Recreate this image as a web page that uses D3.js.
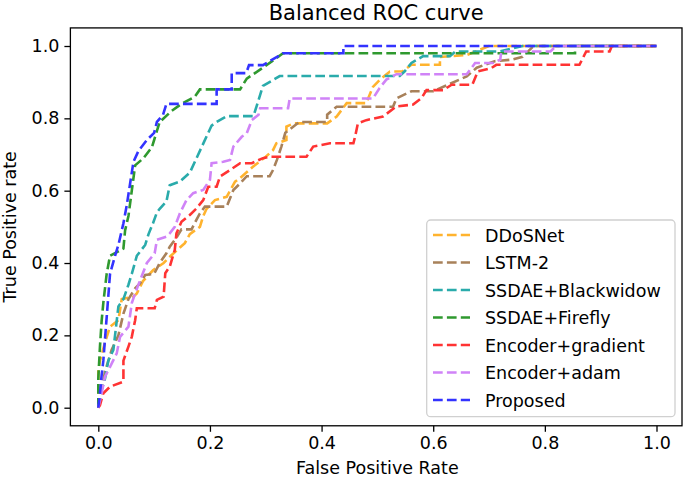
<!DOCTYPE html>
<html>
<head>
<meta charset="utf-8">
<script src="https://cdn.jsdelivr.net/npm/d3@7"></script>
<style>
  body { margin: 0; background: #fff; }
  text { font-family: "DejaVu Sans", sans-serif; fill: #000; }
</style>
</head>
<body>
<script>
// series, in drawing order (Proposed on top)
const seriesNames = ["DDoSNet", "LSTM-2", "SSDAE+Blackwidow", "SSDAE+Firefly",
  "Encoder+gradient", "Encoder+adam", "Proposed"];
const seriesColors = ["#ffb32e", "#a8815a", "#2aabab", "#2f992f", "#ff3333", "#d083f7", "#3333ff"];

// [false positive rate, true positive rate]
const ddosnet = [[0,0],[0,0.1],[0.003,0.13],[0.012,0.18],[0.018,0.21],[0.021,0.224],[0.036,0.242],
  [0.042,0.30],[0.063,0.307],[0.069,0.316],[0.08,0.35],[0.098,0.38],[0.117,0.40],[0.13,0.42],
  [0.155,0.455],[0.164,0.48],[0.182,0.50],[0.188,0.53],[0.194,0.55],[0.209,0.574],[0.23,0.583],
  [0.245,0.625],[0.254,0.635],[0.277,0.666],[0.30,0.694],[0.313,0.712],[0.319,0.731],[0.337,0.74],
  [0.337,0.777],[0.35,0.786],[0.41,0.786],[0.427,0.805],[0.445,0.842],[0.48,0.842],[0.492,0.887],
  [0.504,0.906],[0.522,0.929],[0.545,0.93],[0.561,0.948],[0.612,0.948],[0.612,0.97],[0.66,0.975],
  [0.7,1],[1,1]];
const lstm2 = [[0,0],[0.006,0.05],[0.012,0.1],[0.024,0.16],[0.036,0.2],[0.045,0.26],[0.054,0.3],
  [0.066,0.33],[0.075,0.344],[0.084,0.367],[0.1,0.37],[0.11,0.4],[0.122,0.427],[0.128,0.445],
  [0.14,0.47],[0.149,0.493],[0.167,0.493],[0.176,0.52],[0.182,0.537],[0.191,0.556],[0.23,0.556],
  [0.242,0.602],[0.254,0.62],[0.266,0.64],[0.307,0.64],[0.313,0.657],[0.32,0.685],[0.328,0.722],
  [0.335,0.76],[0.36,0.79],[0.41,0.79],[0.41,0.81],[0.427,0.832],[0.528,0.832],[0.534,0.855],
  [0.561,0.875],[0.6,0.875],[0.66,0.916],[0.678,0.94],[0.71,0.958],[0.74,0.962],[0.76,0.97],
  [0.78,1],[1,1]];
const ssdaeBlackwidow = [[0,0],[0.006,0.05],[0.012,0.08],[0.018,0.13],[0.027,0.16],[0.03,0.2],
  [0.033,0.24],[0.036,0.28],[0.045,0.30],[0.054,0.34],[0.06,0.37],[0.069,0.42],[0.084,0.45],
  [0.09,0.48],[0.098,0.51],[0.105,0.54],[0.11,0.55],[0.122,0.57],[0.128,0.615],[0.146,0.625],
  [0.164,0.65],[0.176,0.69],[0.188,0.73],[0.203,0.78],[0.212,0.79],[0.23,0.806],[0.278,0.806],
  [0.287,0.85],[0.295,0.89],[0.313,0.906],[0.325,0.917],[0.54,0.917],[0.549,0.93],[0.561,0.953],
  [0.582,0.972],[0.63,0.972],[0.64,0.985],[0.72,0.985],[0.76,1],[1,1]];
const ssdaeFirefly = [[0,0],[0,0.08],[0.003,0.17],[0.006,0.24],[0.009,0.29],[0.015,0.37],
  [0.021,0.42],[0.045,0.44],[0.048,0.49],[0.054,0.53],[0.06,0.60],[0.066,0.67],[0.081,0.69],
  [0.096,0.72],[0.11,0.79],[0.131,0.82],[0.149,0.84],[0.173,0.86],[0.182,0.88],[0.254,0.88],
  [0.266,0.91],[0.295,0.94],[0.331,0.98],[0.854,0.98],[0.854,1],[1,1]];
const encoderGradient = [[0,0],[0.003,0.007],[0.009,0.04],[0.021,0.058],[0.045,0.072],[0.045,0.13],
  [0.054,0.169],[0.06,0.196],[0.066,0.242],[0.069,0.275],[0.101,0.275],[0.105,0.298],[0.117,0.307],
  [0.12,0.372],[0.128,0.39],[0.137,0.436],[0.14,0.482],[0.149,0.514],[0.164,0.533],[0.176,0.551],
  [0.188,0.574],[0.197,0.611],[0.212,0.611],[0.218,0.639],[0.236,0.657],[0.254,0.676],[0.275,0.676],
  [0.295,0.69],[0.307,0.694],[0.373,0.694],[0.385,0.722],[0.415,0.731],[0.457,0.731],[0.46,0.749],
  [0.465,0.786],[0.48,0.795],[0.51,0.805],[0.534,0.833],[0.564,0.838],[0.579,0.856],[0.588,0.878],
  [0.618,0.878],[0.633,0.893],[0.67,0.893],[0.68,0.93],[0.704,0.939],[0.713,0.948],[0.862,0.948],
  [0.874,0.985],[0.916,0.985],[0.92,1],[1,1]];
const encoderAdam = [[0,0],[0.006,0.04],[0.012,0.086],[0.021,0.113],[0.033,0.15],[0.039,0.196],
  [0.054,0.224],[0.06,0.289],[0.066,0.316],[0.075,0.353],[0.087,0.40],[0.101,0.427],[0.105,0.464],
  [0.122,0.473],[0.128,0.482],[0.137,0.50],[0.146,0.537],[0.158,0.574],[0.17,0.593],[0.188,0.602],
  [0.20,0.63],[0.203,0.676],[0.224,0.68],[0.236,0.685],[0.242,0.722],[0.257,0.749],[0.266,0.759],
  [0.275,0.795],[0.287,0.81],[0.29,0.828],[0.34,0.828],[0.343,0.855],[0.492,0.855],[0.504,0.884],
  [0.516,0.907],[0.534,0.922],[0.66,0.922],[0.666,0.934],[0.675,0.953],[0.707,0.953],[0.72,0.962],
  [0.722,0.985],[0.81,0.985],[0.82,1],[1,1]];
const proposed = [[0,0],[0.003,0.04],[0.006,0.09],[0.009,0.13],[0.012,0.19],[0.015,0.25],
  [0.018,0.31],[0.021,0.37],[0.03,0.42],[0.036,0.45],[0.045,0.51],[0.051,0.56],[0.057,0.62],
  [0.063,0.68],[0.072,0.71],[0.087,0.74],[0.10,0.76],[0.105,0.79],[0.116,0.81],[0.122,0.84],
  [0.212,0.84],[0.212,0.88],[0.239,0.88],[0.239,0.925],[0.265,0.925],[0.27,0.947],[0.295,0.947],
  [0.331,0.98],[0.439,0.98],[0.439,1],[1,1]];

const seriesData = [ddosnet, lstm2, ssdaeBlackwidow, ssdaeFirefly, encoderGradient, encoderAdam, proposed];
const tickValues = [0, 0.2, 0.4, 0.6, 0.8, 1.0];

const W = 685, H = 480;
const fs = "17.5px";
const dash = "9.7,4.2";

const svg = d3.select("body").append("svg")
  .attr("width", W).attr("height", H)
  .attr("xmlns", "http://www.w3.org/2000/svg");

const x = d3.scaleLinear().domain([0, 1]).range([98.3, 656.5]);
const y = d3.scaleLinear().domain([0, 1]).range([407.7, 46]);

const plotLeft = x(-0.05), plotRight = 682, plotTop = y(1.05), plotBottom = y(-0.05);

// clip to axes area
svg.append("clipPath").attr("id", "clip")
  .append("rect").attr("x", plotLeft).attr("y", plotTop)
  .attr("width", plotRight - plotLeft).attr("height", plotBottom - plotTop);

const line = d3.line().x(d => x(d[0])).y(d => y(d[1]));

svg.append("g").attr("clip-path", "url(#clip)")
  .selectAll("path").data(seriesData).join("path")
  .attr("d", line)
  .attr("fill", "none")
  .attr("stroke", (d, i) => seriesColors[i])
  .attr("stroke-width", 2.6)
  .attr("stroke-dasharray", dash);

// axes
const xAxis = svg.append("g").attr("transform", `translate(0,${plotBottom})`)
  .call(d3.axisBottom(x).tickValues(tickValues).tickFormat(d3.format(".1f")).tickSize(6).tickPadding(5));
const yAxis = svg.append("g").attr("transform", `translate(${plotLeft},0)`)
  .call(d3.axisLeft(y).tickValues(tickValues).tickFormat(d3.format(".1f")).tickSize(6).tickPadding(5));
[xAxis, yAxis].forEach(g => {
  g.select(".domain").remove();
  g.selectAll("line").attr("stroke", "#000").attr("stroke-width", 1.3);
  g.selectAll("text").attr("font-size", fs).attr("font-family", "DejaVu Sans").attr("fill", "#000");
});

// frame
svg.append("rect")
  .attr("x", plotLeft).attr("y", plotTop)
  .attr("width", plotRight - plotLeft).attr("height", plotBottom - plotTop)
  .attr("fill", "none").attr("stroke", "#000").attr("stroke-width", 1.3);

// title and labels
svg.append("text").attr("x", (plotLeft + plotRight) / 2).attr("y", 20)
  .attr("text-anchor", "middle").attr("font-size", "21px").text("Balanced ROC curve");
svg.append("text").attr("x", (x(0) + x(1)) / 2).attr("y", 474)
  .attr("text-anchor", "middle").attr("font-size", fs).text("False Positive Rate");
svg.append("text").attr("transform", `translate(16,${(plotTop + plotBottom) / 2}) rotate(-90)`)
  .attr("text-anchor", "middle").attr("font-size", fs).text("True Positive rate");

// legend
const lg = svg.append("g");
lg.append("rect").attr("x", 426.7).attr("y", 220).attr("width", 248.3).attr("height", 196.7)
  .attr("rx", 4).attr("fill", "#fff").attr("fill-opacity", 0.8)
  .attr("stroke", "#d0d0d0").attr("stroke-width", 1.3);
const rows = lg.selectAll("g.row").data(seriesNames).join("g")
  .attr("transform", (d, i) => `translate(0,${235 + i * 27.5})`);
rows.append("line").attr("x1", 433).attr("x2", 470).attr("y1", 0).attr("y2", 0)
  .attr("stroke", (d, i) => seriesColors[i]).attr("stroke-width", 2.6)
  .attr("stroke-dasharray", dash);
rows.append("text").attr("x", 485).attr("y", 6.5).attr("font-size", fs).text(d => d);
</script>
</body>
</html>
